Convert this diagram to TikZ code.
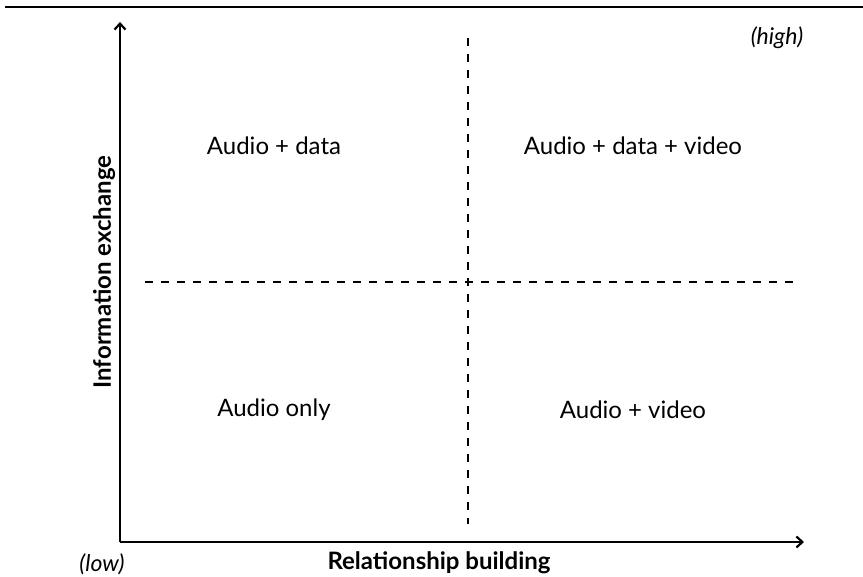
\documentclass[tikz,border=0pt]{standalone}
\usepackage{fontspec}
\setmainfont{Lato}
\usetikzlibrary{arrows.meta}
\begin{document}
\begin{tikzpicture}[x=1pt,y=-1pt,
  axis/.style={line width=2.6pt,-{Straight Barb[length=6pt,width=11pt,line width=2.2pt]}},
  divider/.style={line width=1.6pt,dash pattern=on 8pt off 8pt},
  quad/.style={font=\fontsize{24}{28}\selectfont},
  axlabel/.style={font=\fontsize{24}{28}\selectfont\bfseries},
  endlabel/.style={font=\fontsize{23}{28}\selectfont\itshape}]
\useasboundingbox (0,0) rectangle (863,577);
\coordinate (tl) at (5,7);
\coordinate (tr) at (863,7);
\draw[line width=1.6pt] (tl) -- (tr);
\coordinate (o) at (120,542);
\coordinate (ytop) at (120,22);
\coordinate (xend) at (804,542);
\draw[axis] (o) -- (ytop);
\draw[axis] (o) -- (xend);
\coordinate (vt) at (468,38);
\coordinate (vb) at (468,524);
\coordinate (hl) at (145,282);
\coordinate (hr) at (796,282);
\draw[divider] (vt) -- (vb);
\draw[divider] (hl) -- (hr);
\node[quad] (q1) at (274,146) {Audio + data};
\node[quad] (q2) at (633,146) {Audio + data + video};
\node[quad] (q3) at (274,410) {Audio only};
\node[quad] (q4) at (633,410) {Audio + video};
\node[axlabel,rotate=90] (yl) at (104,272) {Information exchange};
\node[axlabel] (xl) at (439,563) {Relationship building};
\node[endlabel] (low) at (102,564) {(low)};
\node[endlabel] (high) at (777,38) {(high)};
\end{tikzpicture}
\end{document}
